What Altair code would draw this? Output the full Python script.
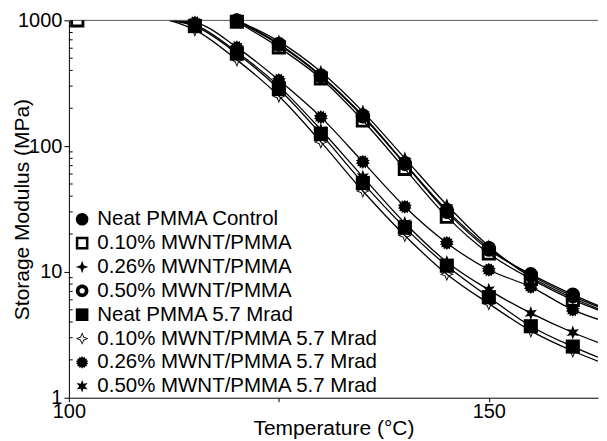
import altair as alt
import pandas as pd
import numpy as np

# ---------------- data ----------------
series = [
    "Neat PMMA Control",
    "0.10% MWNT/PMMA",
    "0.26% MWNT/PMMA",
    "0.50% MWNT/PMMA",
    "Neat PMMA 5.7 Mrad",
    "0.10% MWNT/PMMA 5.7 Mrad",
    "0.26% MWNT/PMMA 5.7 Mrad",
    "0.50% MWNT/PMMA 5.7 Mrad",
]

temps_control = [120, 125, 130, 135, 140, 145, 150, 155, 160]
temps_irradiated = [115, 120, 125, 130, 135, 140, 145, 150, 155, 160]

neat_control = [990, 640, 360, 172, 72, 30, 15, 9.6, 6.6]
mwnt010 = [975, 610, 345, 160, 66, 27.5, 14, 8.8, 6.0]
mwnt026 = [1000, 680, 390, 188, 80, 34, 16, 9.1, 6.2]
mwnt050 = [1000, 650, 365, 175, 73, 31, 15.5, 9.4, 6.4]
neat_irr = [900, 545, 285, 125, 51, 22.5, 11.2, 6.3, 3.7, 2.55]
mwnt010_irr = [840, 485, 250, 108, 44, 19.5, 9.6, 5.6, 3.4, 2.35]
mwnt026_irr = [960, 610, 335, 170, 75, 33, 17, 10.4, 7.6, 5.0]
mwnt050_irr = [920, 560, 300, 135, 57, 24.5, 12, 7.2, 4.7, 3.3]

# visible start / end of the fitted curves
line_start_temp = [None, None, None, None, 112, 112, 112, 112]
line_start_value = [None, None, None, None, 1000, 1000, 1000, 1000]
line_end_temp = 163
line_end_value = [5.4, 5.0, 5.1, 5.3, 2.1, 1.95, 4.2, 2.75]

# stray open square at the upper-left corner
stray_series = "0.10% MWNT/PMMA"
stray_temp = 101
stray_value = 1000

y_tick_values = [1, 10, 100, 1000]
y_minor_values = [m * d for d in [1, 10, 100] for m in range(2, 10)]
x_tick_values = [100, 125, 150]

values_by_series = [neat_control, mwnt010, mwnt026, mwnt050,
                    neat_irr, mwnt010_irr, mwnt026_irr, mwnt050_irr]
temps_by_series = [temps_control] * 4 + [temps_irradiated] * 4

# ---------------- tables ----------------
pt_rows, ln_rows = [], []
for i, s in enumerate(series):
    if line_start_temp[i] is not None:
        ln_rows.append({"series": s, "temp": line_start_temp[i], "value": line_start_value[i]})
    for t, v in zip(temps_by_series[i], values_by_series[i]):
        pt_rows.append({"series": s, "temp": t, "value": v})
        ln_rows.append({"series": s, "temp": t, "value": v})
    ln_rows.append({"series": s, "temp": line_end_temp, "value": line_end_value[i]})
points_df = pd.DataFrame(pt_rows)
lines_df = pd.DataFrame(ln_rows)
stray_df = pd.DataFrame([{"series": stray_series, "temp": stray_temp, "value": stray_value}])
minor_df = pd.DataFrame({"value": y_minor_values})


# ---------------- marker shapes (unit box -1..1) ----------------
def poly(pts):
    return "M" + "L".join(f"{x:.3f},{y:.3f}" for x, y in pts) + "Z"


def star_pts(n, r_out, r_in, reverse=False):
    ang = -np.pi / 2 + np.arange(2 * n) * np.pi / n
    rad = np.where(np.arange(2 * n) % 2 == 0, r_out, r_in)
    pts = list(zip(rad * np.cos(ang), rad * np.sin(ang)))
    return pts[::-1] if reverse else pts


def circle_pts(r, n=40, reverse=False):
    ang = np.linspace(0, 2 * np.pi, n, endpoint=False)
    pts = list(zip(r * np.cos(ang), r * np.sin(ang)))
    return pts[::-1] if reverse else pts


open_square = poly([(-1, -1), (1, -1), (1, 1), (-1, 1)]) + poly([(-0.6, -0.6), (-0.6, 0.6), (0.6, 0.6), (0.6, -0.6)])
four_star = poly(star_pts(4, 1.0, 0.36))
ring = poly(circle_pts(1.0)) + poly(circle_pts(0.42, reverse=True))
open_four_star = poly(star_pts(4, 1.0, 0.42)) + poly(star_pts(4, 0.7, 0.26, reverse=True))
starburst = poly(star_pts(14, 1.0, 0.76))
six_star = poly(star_pts(6, 1.0, 0.45))

shapes = ["circle", open_square, four_star, ring, "square", open_four_star, starburst, six_star]

FONT = "Liberation Sans"

x_enc = alt.X("temp:Q",
              scale=alt.Scale(domain=[100, 163], nice=False, zero=False),
              axis=alt.Axis(values=x_tick_values, labelExpr="datum.value == 125 ? '' : datum.label",
                            title="Temperature (°C)", tickSize=4, labelPadding=0, titlePadding=-4,
                            grid=False, labelFontSize=20, titleFontSize=21, titleFontWeight="normal",
                            labelFlush=False))
y_enc = alt.Y("value:Q",
              scale=alt.Scale(type="log", domain=[1, 1000], nice=False),
              axis=alt.Axis(values=y_tick_values, format="d", title="Storage Modulus (MPa)",
                            tickSize=5, labelPadding=2, grid=False, labelFontSize=20,
                            titleFontSize=21, titleFontWeight="normal", titleX=-36, titleY=189,
                            labelFlush=False))

shape_scale = alt.Scale(domain=series, range=shapes)

top_rule = alt.Chart(pd.DataFrame({"value": [1000]})).mark_rule(color="#555555", strokeWidth=1).encode(
    y=alt.Y("value:Q", scale=alt.Scale(type="log", domain=[1, 1000], nice=False)))

minor = alt.Chart(minor_df).mark_rule(color="black", strokeWidth=1).encode(
    y="value:Q", x=alt.datum(100), x2=alt.datum(100.45))

lines = alt.Chart(lines_df).mark_line(color="black", strokeWidth=1.3, interpolate="monotone", clip=True).encode(
    x=x_enc, y=y_enc, detail="series:N")

points = alt.Chart(points_df).mark_point(filled=True, color="black", opacity=1, size=200, strokeWidth=0).encode(
    x="temp:Q", y="value:Q",
    shape=alt.Shape("series:N", scale=shape_scale,
                    legend=alt.Legend(title=None, orient="none", legendX=3, legendY=189,
                                      labelFontSize=20.5, symbolSize=160, rowPadding=2.9,
                                      labelOffset=5, symbolFillColor="black", symbolStrokeWidth=0,
                                      symbolOpacity=1, padding=0, labelColor="black", labelLimit=400)))

stray = alt.Chart(stray_df).mark_point(filled=True, color="black", opacity=1, size=200, strokeWidth=0, clip=True).encode(
    x="temp:Q", y="value:Q", shape=alt.Shape("series:N", scale=shape_scale))

chart = alt.layer(lines, top_rule, minor, points, stray).properties(
    width=530, height=378,
    padding={"left": 4, "top": 2, "right": 0, "bottom": 0},
).configure(font=FONT).configure_view(strokeWidth=0).configure_axis(
    domainColor="black", tickColor="black", labelColor="black", titleColor="black", domainWidth=1
)

chart.save("out.html", embed_options={"renderer": "svg", "actions": False})
